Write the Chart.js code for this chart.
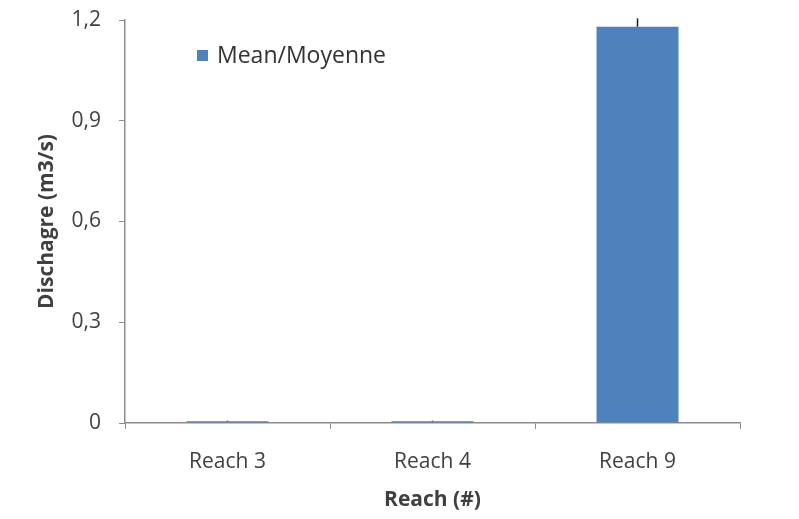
<!DOCTYPE html>
<html lang="en">
<head>
  <meta charset="UTF-8">
  <title>Discharge</title>
  <style>
    body { margin: 0; background: #fff; }
    #wrap { position: relative; width: 799px; height: 519px; }
    #legend { position: absolute; left: 197px; top: 39px; font-family: "Open Sans", sans-serif; font-size: 23px; color: #333; line-height: 30px; }
    #legend span { display: inline-block; width: 11px; height: 11px; background: #4F81BD; margin-right: 9px; vertical-align: 2px; }
  </style>
</head>
<body>
  <div id="wrap">
    <canvas id="myChart" width="799" height="519"></canvas>
    <div id="legend"><span></span>Mean/Moyenne</div>
  </div>

  <script src="https://cdn.jsdelivr.net/npm/chart.js"></script>
  <script>
    const categories = ['Reach 3', 'Reach 4', 'Reach 9'];
    const meanValues = [0.005, 0.005, 1.18];
    const errorValues = [0.002, 0.002, 0.025];
    const yTicks = [0, 0.3, 0.6, 0.9, 1.2];

    const font = "'Open Sans', sans-serif";
    const axisGray = '#8c8c8c';

    // plus-only error whiskers, drawn from the data arrays
    const errorBars = {
      id: 'errorBars',
      afterDatasetsDraw(chart) {
        const ctx = chart.ctx;
        const x = chart.scales.x, y = chart.scales.y;
        ctx.save();
        ctx.strokeStyle = '#222';
        ctx.lineWidth = 1.5;
        meanValues.forEach((v, i) => {
          const px = x.getPixelForValue(i);
          ctx.beginPath();
          ctx.moveTo(px, y.getPixelForValue(v));
          ctx.lineTo(px, y.getPixelForValue(v + errorValues[i]));
          ctx.stroke();
        });
        ctx.restore();
      }
    };

    new Chart(document.getElementById('myChart'), {
      type: 'bar',
      data: {
        labels: categories,
        datasets: [{
          label: 'Mean/Moyenne',
          data: meanValues,
          backgroundColor: '#4F81BD',
          barPercentage: 0.4,
          categoryPercentage: 1
        }]
      },
      options: {
        responsive: false,
        animation: false,
        layout: { padding: { left: 30, right: 59, top: 0, bottom: 0 } },
        plugins: { legend: { display: false }, tooltip: { enabled: false } },
        scales: {
          x: {
            afterFit(s) { s.height = 96; },
            grid: { drawOnChartArea: false, offset: true, color: axisGray, tickLength: 6 },
            border: { color: axisGray, width: 1.5 },
            ticks: { color: '#404040', font: { family: font, size: 21 }, padding: 20 },
            title: { display: true, text: 'Reach (#)', color: '#404040', font: { family: font, size: 21, weight: 'bold' }, padding: { top: 4, bottom: 6 } }
          },
          y: {
            min: 0,
            max: 1.2,
            afterFit(s) { s.width = 95; s.paddingTop = 20; },
            afterBuildTicks(s) { s.ticks = yTicks.map(v => ({ value: v })); },
            grid: { drawOnChartArea: false, color: axisGray, tickLength: 6 },
            border: { color: axisGray, width: 1.5 },
            ticks: {
              color: '#404040',
              font: { family: font, size: 21 },
              padding: 18,
              callback: v => String(Math.round(v * 10) / 10).replace('.', ',')
            },
            title: { display: true, text: 'Dischagre (m3/s)', color: '#404040', font: { family: font, size: 21, weight: 'bold' }, padding: { bottom: 10 } }
          }
        }
      },
      plugins: [errorBars]
    });
  </script>
</body>
</html>
